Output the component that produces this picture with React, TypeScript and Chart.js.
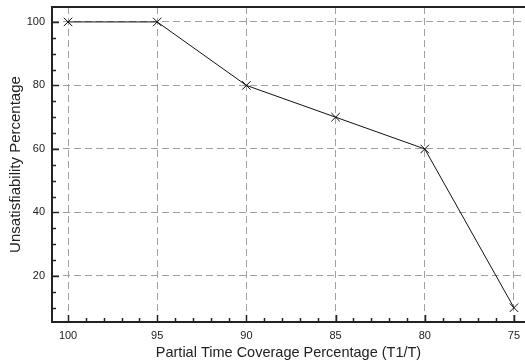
import React, { useEffect, useRef } from "react";
import { Chart, registerables } from "chart.js";

Chart.register(...registerables);

const coverage = [100, 95, 90, 85, 80, 75];
const unsatisfiability = [100, 100, 80, 70, 60, 10];
const xTickValues = [100, 95, 90, 85, 80, 75];
const yTickValues = [20, 40, 60, 80, 100];

const FONT = "'Liberation Sans', Arial, Helvetica, sans-serif";

const innerTicks = {
  id: "innerTicks",
  afterDraw(chart: any) {
    const ctx = chart.ctx;
    const area = chart.chartArea;
    const xs = chart.scales.x;
    const ys = chart.scales.y;
    ctx.save();
    ctx.strokeStyle = "#222";
    ctx.lineWidth = 1.5;
    for (let v = Math.ceil(xs.min); v <= Math.floor(xs.max); v++) {
      const px = Math.round(xs.getPixelForValue(v)) + 0.5;
      const len = v % 5 === 0 ? 7 : 4;
      ctx.beginPath();
      ctx.moveTo(px, area.bottom);
      ctx.lineTo(px, area.bottom - len);
      ctx.stroke();
    }
    for (let v = Math.ceil(ys.min / 5) * 5; v <= ys.max; v += 5) {
      const py = Math.round(ys.getPixelForValue(v)) + 0.5;
      const len = v % 20 === 0 ? 7 : 4;
      ctx.beginPath();
      ctx.moveTo(area.left, py);
      ctx.lineTo(area.left + len, py);
      ctx.stroke();
    }
    ctx.lineWidth = 2;
    ctx.strokeStyle = "#222";
    ctx.beginPath();
    ctx.moveTo(area.right, area.top);
    ctx.lineTo(area.left, area.top);
    ctx.lineTo(area.left, area.bottom);
    ctx.lineTo(area.right, area.bottom);
    ctx.stroke();
    ctx.restore();
  },
};

export default function App() {
  const ref = useRef<HTMLCanvasElement>(null);
  useEffect(() => {
    document.body.style.margin = "0";
    const chart = new Chart(ref.current!, {
      type: "line",
      data: {
        datasets: [
          {
            data: coverage.map((x, i) => ({ x, y: unsatisfiability[i] })),
            borderColor: "#111",
            borderWidth: 1,
            pointStyle: "cross",
            rotation: 45,
            pointRadius: 6,
            pointBorderColor: "#111",
            pointBorderWidth: 1,
            pointBackgroundColor: "#111",
            tension: 0,
            clip: false,
          } as any,
        ],
      },
      options: {
        responsive: false,
        animation: false,
        maintainAspectRatio: false,
        layout: { autoPadding: false, padding: { top: 7, right: 0, left: 0, bottom: 0 } },
        plugins: { legend: { display: false }, tooltip: { enabled: false } },
        scales: {
          x: {
            type: "linear",
            reverse: true,
            min: 74.38,
            max: 100.9,
            afterBuildTicks: (s: any) => {
              s.ticks = xTickValues.map((v) => ({ value: v }));
            },
            afterFit: (s: any) => {
              s.height = 40;
              s.paddingLeft = 0;
              s.paddingRight = 0;
              s.paddingTop = 0;
              s.paddingBottom = 0;
            },
            border: { display: false, dash: [7, 4] },
            grid: {
              drawTicks: false,
              color: "#a0a0a0",
              lineWidth: 1,
            },
            ticks: {
              padding: 7,
              color: "#222",
              font: { family: FONT, size: 11 },
            },
            title: {
              display: true,
              text: "Partial Time Coverage Percentage (T1/T)",
              color: "#222",
              font: { family: FONT, size: 14.5 },
              padding: { top: 1, bottom: 0 },
            },
          },
          y: {
            type: "linear",
            min: 5.5,
            max: 104.7,
            afterBuildTicks: (s: any) => {
              s.ticks = yTickValues.map((v) => ({ value: v }));
            },
            afterFit: (s: any) => {
              s.width = 52;
              s.paddingLeft = 0;
              s.paddingRight = 0;
              s.paddingTop = 0;
              s.paddingBottom = 0;
            },
            border: { display: false, dash: [7, 4] },
            grid: {
              drawTicks: false,
              color: "#a0a0a0",
              lineWidth: 1,
            },
            ticks: {
              padding: 7,
              color: "#222",
              font: { family: FONT, size: 11 },
            },
            title: {
              display: true,
              text: "Unsatisfiability Percentage",
              color: "#222",
              font: { family: FONT, size: 15 },
              padding: { top: 7, bottom: 0 },
            },
          },
        },
      } as any,
      plugins: [innerTicks],
    });
    return () => chart.destroy();
  }, []);
  return (
    <div style={{ position: "fixed", left: 0, top: 0, width: 525, height: 362 }}>
      <canvas ref={ref} width={525} height={362} />
    </div>
  );
}
